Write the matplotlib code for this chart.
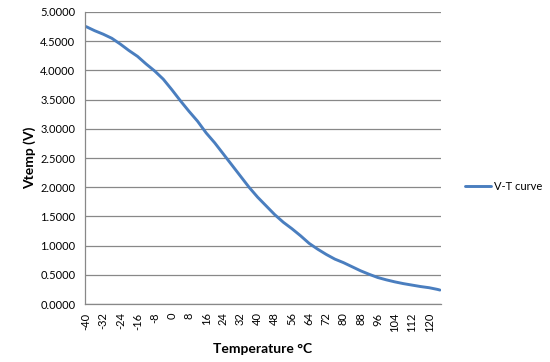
import matplotlib
matplotlib.use('Agg')
import matplotlib.pyplot as plt
from matplotlib.ticker import FormatStrFormatter

temps = [-40, -36, -32, -28, -24, -20, -16, -12, -8, -4, 0, 4, 8, 12, 16, 20,
         24, 28, 32, 36, 40, 44, 48, 52, 56, 60, 64, 68, 72, 76, 80, 84, 88,
         92, 96, 100, 104, 108, 112, 116, 120, 124, 125]
vtemp = [4.75, 4.68, 4.62, 4.55, 4.45, 4.34, 4.24, 4.11, 3.99, 3.85, 3.67,
         3.48, 3.30, 3.13, 2.93, 2.76, 2.57, 2.38, 2.19, 2.00, 1.83, 1.68,
         1.53, 1.40, 1.29, 1.17, 1.04, 0.94, 0.85, 0.77, 0.71, 0.64, 0.57,
         0.51, 0.455, 0.415, 0.38, 0.35, 0.325, 0.30, 0.28, 0.25, 0.24]
xticks = list(range(-40, 121, 8))
yticks = [0.0, 0.5, 1.0, 1.5, 2.0, 2.5, 3.0, 3.5, 4.0, 4.5, 5.0]

plt.rcParams['font.family'] = ['Lato', 'DejaVu Sans']
plt.rcParams['axes.unicode_minus'] = False

fig = plt.figure(figsize=(5.5, 3.62), dpi=100)
ax = fig.add_axes([0.1545, 0.160, 0.6473, 0.8069])

line, = ax.plot(temps, vtemp, color='#4A7EBF', lw=2.1, solid_capstyle='round')

ax.set_xlim(-40.5, 125.5)
ax.set_ylim(0, 5)
ax.set_xticks(xticks)
ax.set_yticks(yticks)
ax.yaxis.set_major_formatter(FormatStrFormatter('%.4f'))
ax.tick_params(axis='x', labelrotation=90, length=0, pad=6, labelsize=8)
ax.tick_params(axis='y', length=0, pad=7, labelsize=8)

ax.grid(axis='y', color='#888888', lw=0.9)
ax.set_axisbelow(True)
for s in ['top', 'right']:
    ax.spines[s].set_visible(False)
for s in ['left', 'bottom']:
    ax.spines[s].set_color('#888888')
    ax.spines[s].set_linewidth(0.9)

ax.set_xlabel('Temperature °C', fontsize=10, fontweight='bold', labelpad=8)
ax.set_ylabel('Vtemp (V)', fontsize=10, fontweight='bold', labelpad=3)

fig.legend([line], ['V-T curve'], loc='center left',
           bbox_to_anchor=(0.828, 0.486), frameon=False, fontsize=8,
           handlelength=2.3, handletextpad=0.3)

fig.savefig('out.png', dpi=100)
